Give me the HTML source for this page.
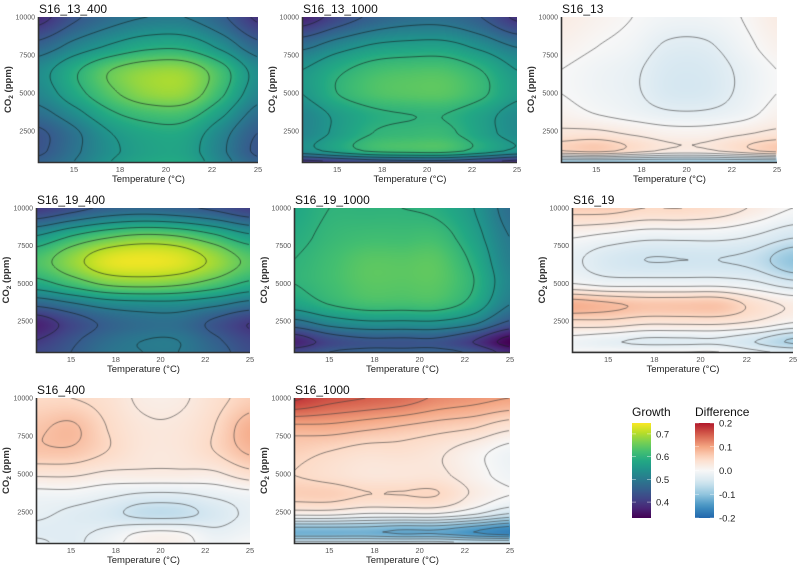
<!DOCTYPE html>
<html><head><meta charset="utf-8">
<style>
body{margin:0;background:#fff;width:800px;height:565px;overflow:hidden;position:relative;font-family:"Liberation Sans",sans-serif}
canvas{position:absolute}
svg{position:absolute;left:0;top:0}
</style></head>
<body>
<div id="root"></div>
<svg id="ov" width="800" height="565"></svg>
<script>
// ---- data ----
const temps = [13,15,17,19,21,23,25];
const co2 = [460,1200,2400,3600,5000,6500,8000,10000];
const xTickVals = [15,17.5,20,22.5,25];
const xTickLabels = ["15","18","20","22","25"];
const yTickVals = [2500,5000,7500,10000];
const yTickLabels = ["2500","5000","7500","10000"];
const growthLegendVals = [0.4,0.5,0.6,0.7];
const diffLegendVals = [-0.2,-0.1,0.0,0.1,0.2];

const s16_13_400 = [
[0.46,0.50,0.55,0.58,0.58,0.52,0.46],
[0.44,0.49,0.54,0.57,0.57,0.51,0.44],
[0.44,0.49,0.55,0.58,0.58,0.52,0.45],
[0.48,0.53,0.59,0.62,0.62,0.56,0.48],
[0.52,0.58,0.64,0.68,0.68,0.61,0.52],
[0.53,0.59,0.65,0.68,0.68,0.62,0.53],
[0.47,0.52,0.56,0.59,0.59,0.54,0.47],
[0.38,0.44,0.48,0.50,0.50,0.46,0.39]];
const s16_13_1000 = [
[0.38,0.40,0.42,0.43,0.43,0.41,0.38],
[0.53,0.57,0.61,0.62,0.62,0.58,0.54],
[0.52,0.56,0.60,0.61,0.61,0.57,0.53],
[0.52,0.56,0.59,0.60,0.60,0.57,0.53],
[0.55,0.60,0.63,0.64,0.64,0.61,0.56],
[0.55,0.59,0.62,0.63,0.63,0.60,0.55],
[0.49,0.53,0.56,0.57,0.57,0.54,0.50],
[0.37,0.42,0.46,0.48,0.48,0.45,0.39]];
const s16_13 = [
[-0.10,-0.10,-0.10,-0.10,-0.10,-0.10,-0.10],
[0.05,0.06,0.04,0.02,0.02,0.04,0.06],
[0.03,0.03,0.02,0.01,0.01,0.02,0.03],
[0.01,0.00,-0.01,-0.02,-0.02,-0.01,0.01],
[0.00,-0.01,-0.02,-0.04,-0.04,-0.02,0.00],
[0.00,-0.01,-0.02,-0.04,-0.04,-0.02,0.00],
[0.01,0.00,-0.01,-0.03,-0.03,-0.01,0.01],
[0.02,0.01,0.00,-0.01,-0.01,0.00,0.02]];
const s16_19_400 = [
[0.42,0.45,0.49,0.50,0.50,0.47,0.43],
[0.40,0.44,0.48,0.50,0.50,0.46,0.42],
[0.37,0.42,0.46,0.48,0.48,0.44,0.40],
[0.46,0.49,0.52,0.53,0.53,0.51,0.48],
[0.58,0.62,0.66,0.67,0.66,0.63,0.59],
[0.63,0.68,0.73,0.74,0.73,0.69,0.64],
[0.56,0.61,0.65,0.67,0.66,0.62,0.57],
[0.40,0.43,0.46,0.47,0.46,0.44,0.41]];
const s16_19_1000 = [
[0.42,0.45,0.46,0.46,0.46,0.44,0.38],
[0.37,0.42,0.44,0.44,0.44,0.40,0.33],
[0.48,0.52,0.54,0.54,0.54,0.51,0.44],
[0.57,0.60,0.62,0.62,0.62,0.58,0.50],
[0.60,0.62,0.64,0.64,0.64,0.60,0.52],
[0.60,0.62,0.64,0.64,0.64,0.59,0.51],
[0.59,0.61,0.62,0.62,0.62,0.57,0.50],
[0.58,0.60,0.60,0.60,0.59,0.55,0.48]];
const s16_19 = [
[0.00,0.00,0.00,0.00,0.00,-0.02,-0.03],
[-0.01,-0.02,-0.03,-0.03,-0.03,-0.05,-0.08],
[0.04,0.04,0.03,0.03,0.03,0.02,0.00],
[0.09,0.08,0.07,0.07,0.07,0.04,0.02],
[0.00,-0.01,-0.01,-0.01,-0.01,-0.02,-0.04],
[-0.02,-0.04,-0.05,-0.05,-0.05,-0.06,-0.10],
[0.00,-0.01,-0.02,-0.02,-0.02,-0.03,-0.05],
[0.06,0.06,0.05,0.05,0.04,0.02,0.00]];
const s16_400 = [
[-0.02,-0.03,-0.01,0.01,0.01,-0.01,0.00],
[-0.03,-0.03,-0.02,0.00,0.00,-0.02,-0.01],
[-0.02,-0.03,-0.04,-0.06,-0.06,-0.04,-0.02],
[-0.01,-0.01,-0.02,-0.03,-0.03,-0.02,-0.01],
[0.03,0.03,0.02,0.02,0.02,0.02,0.04],
[0.07,0.07,0.05,0.03,0.03,0.05,0.08],
[0.07,0.08,0.05,0.03,0.03,0.05,0.09],
[0.05,0.05,0.04,0.02,0.02,0.04,0.06]];
const s16_1000 = [
[-0.04,-0.04,-0.04,-0.04,-0.04,-0.05,-0.05],
[-0.12,-0.12,-0.12,-0.13,-0.13,-0.15,-0.17],
[0.01,0.01,0.00,0.00,0.00,-0.02,-0.05],
[0.06,0.06,0.05,0.05,0.05,0.02,0.00],
[0.05,0.04,0.03,0.03,0.03,0.01,-0.01],
[0.06,0.05,0.04,0.04,0.03,0.01,-0.01],
[0.09,0.09,0.08,0.07,0.06,0.05,0.03],
[0.18,0.16,0.15,0.14,0.12,0.11,0.10]];

const panels = [
 {title:"S16_13_400",data:s16_13_400,type:"g",x0:39,x1:258,y0:17,y1:162},
 {title:"S16_13_1000",data:s16_13_1000,type:"g",x0:303,x1:517,y0:17,y1:162},
 {title:"S16_13",data:s16_13,type:"d",x0:562,x1:777,y0:17,y1:162},
 {title:"S16_19_400",data:s16_19_400,type:"g",x0:37,x1:250,y0:208,y1:352},
 {title:"S16_19_1000",data:s16_19_1000,type:"g",x0:295,x1:510,y0:208,y1:352},
 {title:"S16_19",data:s16_19,type:"d",x0:573,x1:793,y0:208,y1:352},
 {title:"S16_400",data:s16_400,type:"d",x0:37,x1:250,y0:398,y1:543},
 {title:"S16_1000",data:s16_1000,type:"d",x0:295,x1:510,y0:398,y1:543}
];
const TMIN=13.1,TMAX=25,CMIN=460,CMAX=10000;

// ---- colour scales ----
const vir=["#440154","#482475","#414487","#355f8d","#2a788e","#21918c","#22a884","#44bf70","#7ad151","#bddf26","#fde725"];
const rdbu=["#2166ac","#4393c3","#92c5de","#d1e5f0","#f7f7f7","#fddbc7","#f4a582","#d6604d","#b2182b"];
function hex(h){return [parseInt(h.slice(1,3),16),parseInt(h.slice(3,5),16),parseInt(h.slice(5,7),16)];}
const virC=vir.map(hex), rdC=rdbu.map(hex);
function ramp(c,t){t=Math.max(0,Math.min(1,t));const f=t*(c.length-1);const i=Math.min(c.length-2,Math.floor(f));const u=f-i;
 return [0,1,2].map(k=>c[i][k]+(c[i+1][k]-c[i][k])*u);}
function colG(v){return ramp(virC,(v-0.33)/(0.75-0.33));}
function colD(v){return ramp(rdC,(v+0.2)/0.4);}

// ---- interpolation ----
function cr(p0,p1,p2,p3,t){return 0.5*((2*p1)+(-p0+p2)*t+(2*p0-5*p1+4*p2-p3)*t*t+(-p0+3*p1-3*p2+p3)*t*t*t);}
function idxOf(arr,v){if(v<=arr[0])return 0;for(let i=0;i<arr.length-1;i++){if(v<=arr[i+1])return i+(v-arr[i])/(arr[i+1]-arr[i]);}return arr.length-1;}
function sample(g,T,C){
 const fx=idxOf(temps,T), fy=idxOf(co2,C);
 const nx=temps.length, ny=co2.length;
 const ix=Math.min(nx-2,Math.floor(fx)), iy=Math.min(ny-2,Math.floor(fy));
 const tx=fx-ix, ty=fy-iy;
 const G=(r,c)=>g[Math.max(0,Math.min(ny-1,r))][Math.max(0,Math.min(nx-1,c))];
 const rows=[];
 for(let r=iy-1;r<=iy+2;r++){rows.push(cr(G(r,ix-1),G(r,ix),G(r,ix+1),G(r,ix+2),tx));}
 return cr(rows[0],rows[1],rows[2],rows[3],ty);
}

const root=document.getElementById('root');
const ov=document.getElementById('ov');
const NS="http://www.w3.org/2000/svg";
function mk(tag,attrs,parent){const e=document.createElementNS(NS,tag);for(const k in attrs)e.setAttribute(k,attrs[k]);(parent||ov).appendChild(e);return e;}

panels.forEach((p,pi)=>{
 const w=p.x1-p.x0,h=p.y1-p.y0;
 const xs=T=>(T-TMIN)/(TMAX-TMIN)*w;
 const ys=C=>h-(C-CMIN)/(CMAX-CMIN)*h;
 const cv=document.createElement('canvas');
 cv.width=w;cv.height=h;cv.style.left=p.x0+'px';cv.style.top=p.y0+'px';
 
 
 root.appendChild(cv);
 const ctx=cv.getContext('2d');
 const img=ctx.createImageData(w,h);
 const F=[];
 for(let j=0;j<=h;j++){F.push([]);for(let i=0;i<=w;i++){
   const T=TMIN+i/w*(TMAX-TMIN), C=CMIN+(h-j)/h*(CMAX-CMIN);
   F[j].push(sample(p.data,T,C));}}
 for(let j=0;j<h;j++)for(let i=0;i<w;i++){
   const v=F[j][i];const c=p.type==="g"?colG(v):colD(v);const o=(j*w+i)*4;
   img.data[o]=c[0];img.data[o+1]=c[1];img.data[o+2]=c[2];img.data[o+3]=255;}
 ctx.putImageData(img,0,0);
 // contours
 const levels=[];
 if(p.type==="g"){for(let l=0.30;l<0.76;l+=0.05)levels.push(+l.toFixed(3));}
 else{for(let l=-0.2;l<0.21;l+=0.025)levels.push(+l.toFixed(3));}
 ctx.strokeStyle=p.type==="g"?"rgba(20,30,30,0.75)":"rgba(60,60,60,0.75)";
 ctx.lineWidth=0.8;
 const st=2;
 levels.forEach(L=>{
  ctx.beginPath();
  for(let j=0;j+st<=h;j+=st)for(let i=0;i+st<=w;i+=st){
   const a=F[j][i],b=F[j][i+st],c=F[j+st][i+st],d=F[j+st][i];
   const pts=[];
   const e=(v1,v2,x1,y1,x2,y2)=>{if((v1<L)!==(v2<L)){const t=(L-v1)/(v2-v1);pts.push([x1+(x2-x1)*t,y1+(y2-y1)*t]);}};
   e(a,b,i,j,i+st,j);e(b,c,i+st,j,i+st,j+st);e(c,d,i+st,j+st,i,j+st);e(d,a,i,j+st,i,j);
   for(let k=0;k+1<pts.length;k+=2){ctx.moveTo(pts[k][0],pts[k][1]);ctx.lineTo(pts[k+1][0],pts[k+1][1]);}
  }
  ctx.stroke();
 });
 // axes & text
 const g=mk('g',{});
 
 
 const t=mk('text',{x:p.x0,y:p.y0-4,'font-size':12,fill:'#111'},g);t.textContent=p.title;
 
 
 const ax=mk('path',{d:`M${p.x0-0.5},${p.y0} V${p.y1+0.5} H${p.x1}`,stroke:'#333',fill:'none','stroke-width':1.6},g);
 
 
 xTickVals.forEach((v,k)=>{
  const tx=mk('text',{x:p.x0+xs(v),y:p.y1+10,'font-size':7.5,fill:'#555','text-anchor':'middle'},g);tx.textContent=xTickLabels[k];
  
  
 });
 yTickVals.forEach((v,k)=>{
  const ty=mk('text',{x:p.x0-4,y:p.y0+ys(v)+2.5,'font-size':7,fill:'#555','text-anchor':'end'},g);ty.textContent=yTickLabels[k];
  
  
 });
 const xt=mk('text',{x:(p.x0+p.x1)/2,y:p.y1+20,'font-size':9.5,fill:'#222','text-anchor':'middle'},g);xt.textContent="Temperature (°C)";
 
 
 const cx=p.x0-28, cy=(p.y0+p.y1)/2;
 const yt=mk('text',{x:cx,y:cy,'font-size':9.5,'font-weight':'bold',fill:'#333','text-anchor':'middle',transform:`rotate(-90 ${cx} ${cy})`},g);
 yt.innerHTML='CO<tspan font-size="6.5" dy="2">2</tspan><tspan dy="-2"> (ppm)</tspan>';
 
 
});

// ---- legends ----
function legend(x,title,lo,hi,colfn,vals,fmt,name){
 const y0=423,y1=518;
 const g=mk('g',{});
 
 
 const defs=mk('defs',{},g);
 const lg=mk('linearGradient',{id:name+'-grad',x1:0,y1:1,x2:0,y2:0},defs);
 for(let k=0;k<=20;k++){const v=lo+(hi-lo)*k/20;const c=colfn(v).map(Math.round);
  mk('stop',{offset:k/20,'stop-color':`rgb(${c})`},lg);}
 const r=mk('rect',{x:x,y:y0,width:19,height:y1-y0,fill:`url(#${name}-grad)`},g);
 
 
 const tt=mk('text',{x:x,y:y0-7,'font-size':12,fill:'#111'},g);tt.textContent=title;
 
 
 vals.forEach(v=>{const yy=y1-(v-lo)/(hi-lo)*(y1-y0);
  mk('line',{x1:x,x2:x+4,y1:yy,y2:yy,stroke:'#fff','stroke-width':0.6,opacity:0.7},g);
  mk('line',{x1:x+15,x2:x+19,y1:yy,y2:yy,stroke:'#fff','stroke-width':0.6,opacity:0.7},g);
  const l=mk('text',{x:x+24,y:yy+3.5,'font-size':9.5,fill:'#222'},g);l.textContent=fmt(v);
  
  });
}
legend(632,"Growth",0.33,0.748,colG,growthLegendVals,v=>v.toFixed(1),"growth-legend");
legend(695,"Difference",-0.2,0.2,colD,diffLegendVals,v=>v.toFixed(1),"difference-legend");
</script>
</body></html>
